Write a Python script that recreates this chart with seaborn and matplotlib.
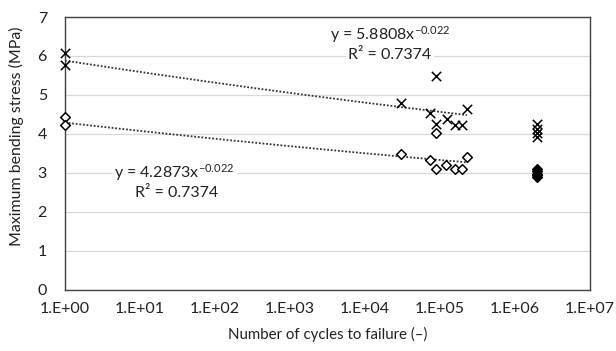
import numpy as np
import pandas as pd
import matplotlib
matplotlib.use("Agg")
import matplotlib.pyplot as plt
import seaborn as sns

# ---- data ----
cross_cycles = [1, 1, 3.0e4, 7.3e4, 9.0e4, 9.0e4, 1.23e5, 1.6e5, 2.0e5, 2.3e5,
                2e6, 2e6, 2e6, 2e6]
cross_stress = [6.07, 5.77, 4.78, 4.53, 5.48, 4.25, 4.38, 4.23, 4.23, 4.65,
                4.26, 4.13, 4.03, 3.92]
diamond_cycles = [1, 1, 3.0e4, 7.4e4, 9.0e4, 9.0e4, 1.2e5, 1.6e5, 2.0e5, 2.3e5]
diamond_stress = [4.43, 4.22, 3.49, 3.32, 4.02, 3.10, 3.19, 3.10, 3.10, 3.40]
runout_cycles = [2e6, 2e6, 2e6, 2e6, 2e6]
runout_stress = [3.10, 3.04, 2.98, 2.93, 2.88]

upper_coef, upper_exp = 5.8808, -0.022
lower_coef, lower_exp = 4.2873, -0.022
r2_text = "R² = 0.7374"
trend_range = [1, 2.3e5]
x_ticks = [1e0, 1e1, 1e2, 1e3, 1e4, 1e5, 1e6, 1e7]
x_ticklabels = ["1.E+00", "1.E+01", "1.E+02", "1.E+03", "1.E+04", "1.E+05", "1.E+06", "1.E+07"]
y_ticks = [0, 1, 2, 3, 4, 5, 6, 7]

sns.set_theme(style="white")
plt.rcParams['font.family'] = ['Lato', 'DejaVu Sans']
plt.rcParams['mathtext.fontset'] = 'custom'
plt.rcParams['mathtext.rm'] = 'Lato'
plt.rcParams['mathtext.it'] = 'Lato:italic'

fig = plt.figure(figsize=(6.16, 3.51), dpi=100)
ax = fig.add_axes([0.1055, 0.175, 0.852, 0.7765])

# trendlines
xt = np.logspace(np.log10(trend_range[0]), np.log10(trend_range[1]), 200)
df_up = pd.DataFrame({"x": xt, "y": upper_coef * xt ** upper_exp})
df_lo = pd.DataFrame({"x": xt, "y": lower_coef * xt ** lower_exp})
sns.lineplot(data=df_up, x="x", y="y", ax=ax, color="#333333", lw=1.3,
             linestyle=(0, (1, 1)), zorder=2)
sns.lineplot(data=df_lo, x="x", y="y", ax=ax, color="#333333", lw=1.3,
             linestyle=(0, (1, 1)), zorder=2)

sns.scatterplot(x=cross_cycles, y=cross_stress, ax=ax, marker="x", s=45,
                color="black", linewidth=1.1, zorder=3, clip_on=False)
sns.scatterplot(x=diamond_cycles, y=diamond_stress, ax=ax, marker="D", s=24,
                facecolor="white", edgecolor="black", linewidth=1.1, zorder=3,
                clip_on=False)
sns.scatterplot(x=runout_cycles, y=runout_stress, ax=ax, marker="D", s=24,
                facecolor="black", edgecolor="black", linewidth=1.1, zorder=3,
                clip_on=False)

ax.set_xscale("log")
ax.set_xlim(1, 1e7)
ax.set_ylim(0, 7)
ax.set_xticks(x_ticks)
ax.set_xticklabels(x_ticklabels)
ax.minorticks_off()
ax.set_yticks(y_ticks)
ax.yaxis.grid(True, color="#d9d9d9", lw=0.9)
ax.xaxis.grid(False)
ax.set_axisbelow(True)
for s in ax.spines.values():
    s.set_color("#404040")
    s.set_linewidth(1.0)
ax.tick_params(axis="x", direction="in", length=4, width=0.9, color="#404040",
               labelsize=11.5, pad=9, labelcolor="#222222")
ax.tick_params(axis="y", length=0, labelsize=11.5, pad=13, labelcolor="#222222")

ax.set_xlabel("Number of cycles to failure (–)", fontsize=10.8, color="#222222", labelpad=8)
ax.set_ylabel("Maximum bending stress (MPa)", fontsize=11.4, color="#222222")
ax.yaxis.set_label_coords(-0.078, 0.563)

bbox = dict(facecolor="white", edgecolor="none", pad=1.5)
ax.text(2.15e4, 6.54, f"y = {upper_coef}x$^{{{upper_exp}}}$", ha="center", va="center",
        fontsize=11.5, color="#222222", bbox=bbox, zorder=4)
ax.text(2.15e4, 6.03, r2_text, ha="center", va="center",
        fontsize=11.5, color="#222222", bbox=bbox, zorder=4)
ax.text(29, 3.0, f"y = {lower_coef}x$^{{{lower_exp}}}$", ha="center", va="center",
        fontsize=11.5, color="#222222", bbox=bbox, zorder=4)
ax.text(31, 2.49, r2_text, ha="center", va="center",
        fontsize=11.5, color="#222222", bbox=bbox, zorder=4)

fig.savefig("out.png", dpi=100)
